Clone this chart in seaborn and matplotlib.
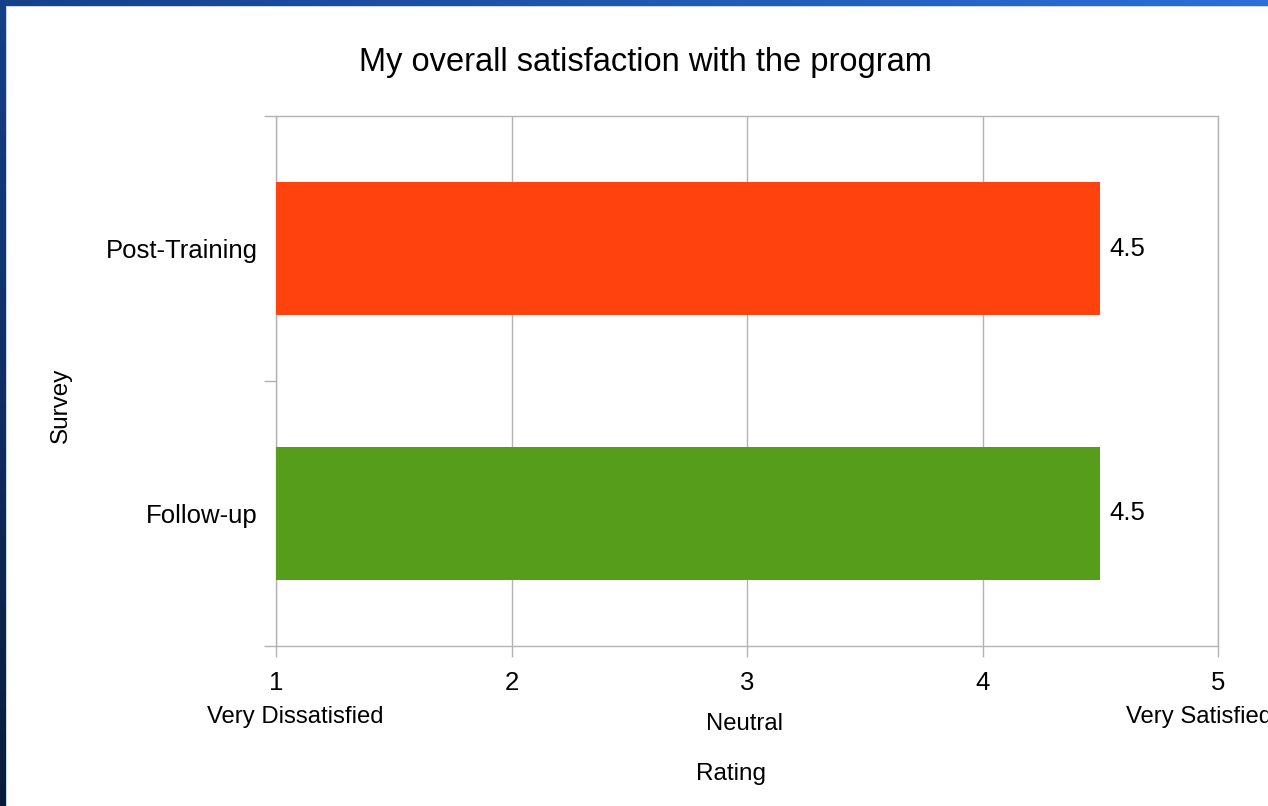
import numpy as np
import pandas as pd
import matplotlib.pyplot as plt
import matplotlib.colors as mcolors
from matplotlib.patches import Rectangle
import seaborn as sns

# data
surveys = ['Post-Training', 'Follow-up']
ratings = [4.5, 4.5]
bar_colors = ['#ff420e', '#579d1c']
tick_vals = [1, 2, 3, 4, 5]
scale_words = ['Very Dissatisfied', 'Neutral', 'Very Satisfied']
scale_pos = [1.083, 2.989, 4.919]

df = pd.DataFrame({'Survey': surveys, 'Rating': ratings})

sns.set_style('white')
plt.rcParams['font.family'] = ['Liberation Sans', 'DejaVu Sans']
plt.rcParams['text.color'] = 'black'
plt.rcParams['axes.labelcolor'] = 'black'
plt.rcParams['xtick.labelcolor'] = 'black'
plt.rcParams['ytick.labelcolor'] = 'black'

fig = plt.figure(figsize=(12.68, 8.06), dpi=100)

# blue slide frame in the background
bg = fig.add_axes([0, 0, 1, 1], zorder=-10)
W, H = 1268, 806
xx, yy = np.meshgrid(np.linspace(0, 1, 200), np.linspace(0, 1, 200))
t = (xx + (1 - yy)) / 2
cmap = mcolors.LinearSegmentedColormap.from_list('frame', ['#0a1c3a', '#16408a', '#2a70d8'])
bg.imshow(t, cmap=cmap, extent=[0, W, H, 0], aspect='auto', vmin=0, vmax=1)
bg.add_patch(Rectangle((6, 6), W, H, facecolor='#c8d6ee', edgecolor='none'))
bg.add_patch(Rectangle((7, 7), W, H, facecolor='white', edgecolor='none'))
bg.set_xlim(0, W)
bg.set_ylim(H, 0)
bg.axis('off')

ax = fig.add_axes([276 / W, 1 - 646 / H, (1218 - 276) / W, (646 - 116) / H])
sns.barplot(data=df, x='Rating', y='Survey', hue='Survey', palette=bar_colors,
            orient='h', width=0.5, legend=False, ax=ax, zorder=3, saturation=1,
            linewidth=0, edgecolor='none')

ax.set_xlim(1, 5)
ax.set_ylim(1.5, -0.5)
ax.set_xticks(tick_vals)
ax.set_xticklabels([str(v) for v in tick_vals], fontsize=18.5)
ax.tick_params(axis='x', bottom=True, length=8, width=1, color='#b3b3b3', pad=10)
ax.tick_params(axis='y', which='major', left=True, length=0, pad=13, labelsize=18.5)
ax.set_yticks([-0.5, 0.5, 1.5], minor=True)
ax.tick_params(axis='y', which='minor', left=True, length=8.6, width=1, color='#b3b3b3')
ax.grid(axis='x', color='#b3b3b3', linewidth=1, zorder=0)
ax.set_axisbelow(True)
for s in ax.spines.values():
    s.set_visible(True)
    s.set_color('#b3b3b3')
    s.set_linewidth(1)

for i, v in enumerate(ratings):
    ax.text(v + 0.038, i, f'{v}', va='center', ha='left', fontsize=18.5)

trans = ax.get_xaxis_transform()
for word, pos in zip(scale_words, scale_pos):
    yoff = -0.134 if word != 'Neutral' else -0.147
    ax.text(pos, yoff, word, transform=trans, ha='center', va='center',
            fontsize=17.2, clip_on=False)

ax.set_xlabel('Rating', fontsize=17.5)
ax.xaxis.set_label_coords((731 - 276) / (1218 - 276), -0.22)
ax.set_ylabel('Survey', fontsize=17.5)
ax.yaxis.set_label_coords(-(276 - 72) / (1218 - 276), 0.455)

fig.text(645 / W, 1 - 62 / H, 'My overall satisfaction with the program',
         ha='center', va='center', fontsize=23.5)

fig.savefig('out.png', dpi=100)
